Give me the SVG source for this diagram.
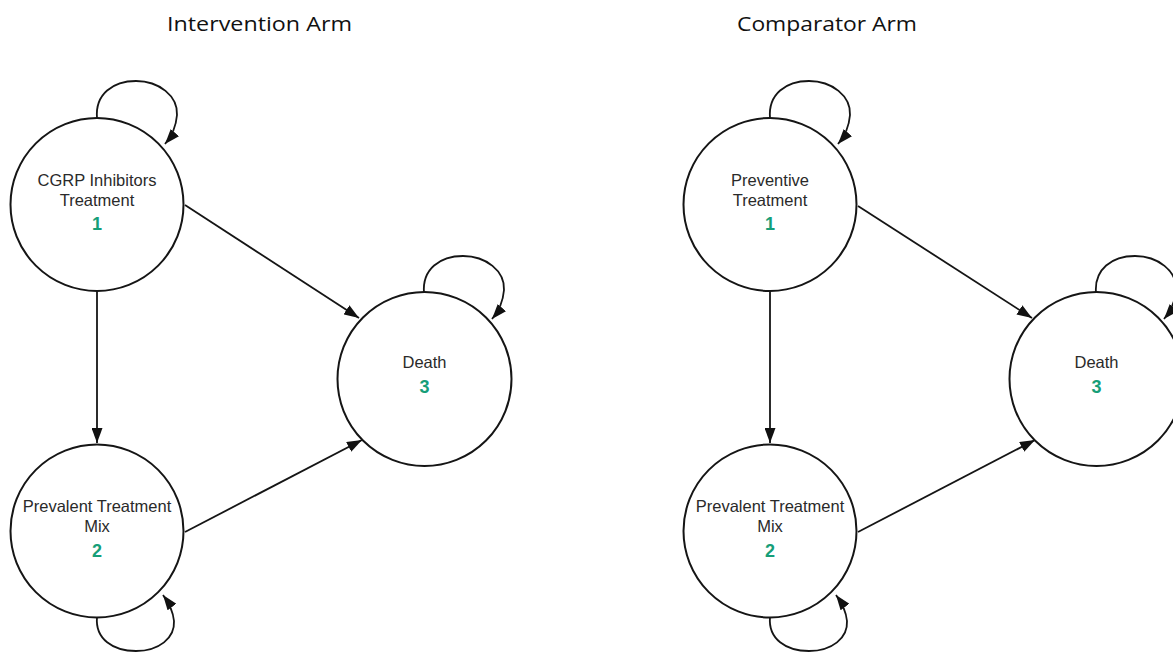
<svg xmlns="http://www.w3.org/2000/svg" width="1173" height="652" viewBox="0 0 1173 652">
<defs>
<style>
.node{fill:#fff;stroke:#151515;stroke-width:2}
.lbl{font-family:"Liberation Sans",Arial,sans-serif;font-size:16.5px;fill:#2a2a2a;text-anchor:middle}
.num{font-family:"Liberation Sans",Arial,sans-serif;font-size:18px;font-weight:bold;fill:#169e78;text-anchor:middle}
.title{font-family:"Open Sans","Liberation Sans",sans-serif;font-size:20px;fill:#111;text-anchor:middle}
.edge{fill:none;stroke:#151515;stroke-width:1.8}
</style>
<marker id="ah" viewBox="0 0 15 11" refX="15" refY="5.5" markerWidth="15" markerHeight="11" markerUnits="userSpaceOnUse" orient="auto">
<path d="M0,0 L15,5.5 L0,11 Z" fill="#111"/>
</marker>
<path id="loopTop" d="M0,-86 C-2,-110 16,-123 39,-123 C62,-123 81,-108 80,-89 C79,-77 75,-68 68,-60" class="edge" marker-end="url(#ah)"/>
<path id="loopBot" d="M0,86 C-2,108 16,120 39,120 C62,120 78,107 77,90 C76,80 72,72 66,64" class="edge" marker-end="url(#ah)"/>
</defs>
<rect width="1173" height="652" fill="#fff"/>
<text class="title" x="259.5" y="31" textLength="185" lengthAdjust="spacingAndGlyphs">Intervention Arm</text>
<text class="title" x="827" y="31" textLength="180" lengthAdjust="spacingAndGlyphs">Comparator Arm</text>

<g id="connectors">
<use href="#loopTop" x="97" y="204"/>
<use href="#loopBot" x="97" y="531"/>
<use href="#loopTop" x="424" y="379"/>
<line class="edge" x1="97" y1="291" x2="97" y2="443" marker-end="url(#ah)"/>
<line class="edge" x1="185" y1="205" x2="359" y2="318" marker-end="url(#ah)"/>
<line class="edge" x1="185" y1="532" x2="362" y2="440" marker-end="url(#ah)"/>
<use href="#loopTop" x="770" y="204"/>
<use href="#loopBot" x="770" y="531"/>
<use href="#loopTop" x="1096" y="379"/>
<line class="edge" x1="770" y1="291" x2="770" y2="443" marker-end="url(#ah)"/>
<line class="edge" x1="858" y1="206" x2="1032" y2="318" marker-end="url(#ah)"/>
<line class="edge" x1="858" y1="532" x2="1035" y2="440" marker-end="url(#ah)"/>
</g>

<g id="int-1">
<circle class="node" cx="97" cy="204.5" r="86.5"/>
<text class="lbl" x="97" y="186">CGRP Inhibitors</text>
<text class="lbl" x="97" y="206">Treatment</text>
<text class="num" x="97" y="230">1</text>
</g>
<g id="int-2">
<circle class="node" cx="97" cy="531" r="86.5"/>
<text class="lbl" x="97" y="512">Prevalent Treatment</text>
<text class="lbl" x="97" y="532">Mix</text>
<text class="num" x="97" y="557">2</text>
</g>
<g id="int-3">
<circle class="node" cx="424.5" cy="379" r="87"/>
<text class="lbl" x="424.5" y="368">Death</text>
<text class="num" x="424.5" y="393">3</text>
</g>

<g id="cmp-1">
<circle class="node" cx="770" cy="204.5" r="86.5"/>
<text class="lbl" x="770" y="186">Preventive</text>
<text class="lbl" x="770" y="206">Treatment</text>
<text class="num" x="770" y="230">1</text>
</g>
<g id="cmp-2">
<circle class="node" cx="770" cy="531" r="86.5"/>
<text class="lbl" x="770" y="512">Prevalent Treatment</text>
<text class="lbl" x="770" y="532">Mix</text>
<text class="num" x="770" y="557">2</text>
</g>
<g id="cmp-3">
<circle class="node" cx="1096.5" cy="379" r="87"/>
<text class="lbl" x="1096.5" y="368">Death</text>
<text class="num" x="1096.5" y="393">3</text>
</g>
</svg>
